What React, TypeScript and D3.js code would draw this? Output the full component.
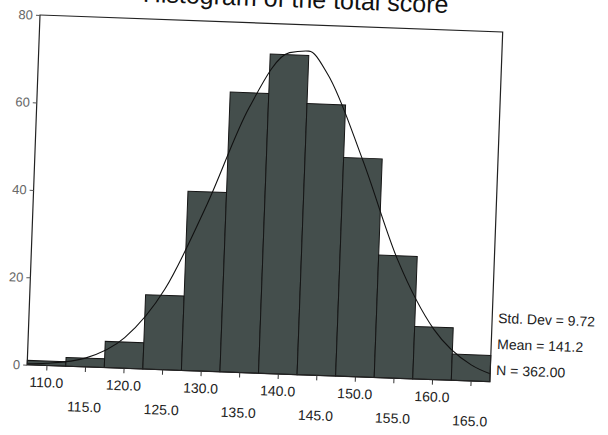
import React, { useEffect, useRef } from "react";
import * as d3 from "d3";

// histogram of the total score (scanned SPSS output, page slightly tilted)
const chartTitle = "Histogram of the total score";
const binCenters = [110, 115, 120, 125, 130, 135, 140, 145, 150, 155, 160, 165];
const binCounts = [1, 2, 6, 17, 41, 64, 73, 62, 50, 28, 12, 6];
const yTicks = [0, 20, 40, 60, 80];
// normal curve
const curveX = [107.5, 110, 115, 120, 125, 130, 135, 140, 142.5, 145, 150, 155, 160, 165, 167.5];
const curveY = [0.2, 0.5, 2, 7, 18.5, 38, 60.5, 73.5, 74, 69, 49.5, 27, 11.5, 3.7, 1.8];
const statLines = ["Std. Dev = 9.72", "Mean = 141.2", "N = 362.00"];

const FONT = "'Liberation Sans', Arial, sans-serif";

export default function App() {
  const ref = useRef<SVGSVGElement>(null);

  useEffect(() => {
    const width = 463,
      height = 350,
      binWidth = 5;
    const svg = d3.select(ref.current);
    svg.selectAll("*").remove();

    const x = d3
      .scaleLinear()
      .domain([binCenters[0] - binWidth / 2, binCenters[binCenters.length - 1] + binWidth / 2])
      .range([0, width]);
    const y = d3.scaleLinear().domain([0, 80]).range([height, 0]);

    const g = svg.append("g").attr("transform", "translate(40,15) rotate(2.1)");

    // title runs off the top of the scan
    g.append("text")
      .attr("x", 255)
      .attr("y", -17)
      .attr("text-anchor", "middle")
      .style("font-family", FONT)
      .style("font-size", "25px")
      .attr("fill", "#111")
      .text(chartTitle);

    // bars
    g.selectAll("rect.bar")
      .data(binCenters)
      .join("rect")
      .attr("class", "bar")
      .attr("x", d => x(d - binWidth / 2))
      .attr("width", x(binCenters[0] + binWidth / 2) - x(binCenters[0] - binWidth / 2))
      .attr("y", (d, i) => y(binCounts[i]))
      .attr("height", (d, i) => height - y(binCounts[i]))
      .attr("fill", "#444e4c")
      .attr("stroke", "#151515")
      .attr("stroke-width", 1);

    // fitted curve
    const line = d3
      .line<number>()
      .x(d => x(d))
      .y((d, i) => y(curveY[i]))
      .curve(d3.curveMonotoneX);
    g.append("path")
      .attr("d", line(curveX))
      .attr("fill", "none")
      .attr("stroke", "#111")
      .attr("stroke-width", 1.1);

    // frame
    g.append("rect")
      .attr("x", 0)
      .attr("y", 0)
      .attr("width", width)
      .attr("height", height)
      .attr("fill", "none")
      .attr("stroke", "#222")
      .attr("stroke-width", 1.2);

    const xAxis = d3
      .axisBottom(x)
      .tickValues(binCenters)
      .tickSize(5)
      .tickFormat(d3.format(".1f"));
    const xg = g
      .append("g")
      .attr("transform", `translate(0,${height})`)
      .call(xAxis);
    xg.select(".domain").remove();
    xg.selectAll("line").attr("stroke", "#333");
    xg.selectAll("text")
      .attr("y", (d, i) => (i % 2 ? 35 : 12))
      .attr("fill", "#222")
      .style("font-family", FONT)
      .style("font-size", "14px");

    const yAxis = d3.axisLeft(y).tickValues(yTicks).tickSize(4);
    const yg = g.append("g").call(yAxis);
    yg.select(".domain").remove();
    yg.selectAll("line").attr("stroke", "#555");
    yg.selectAll("text")
      .attr("fill", "#666")
      .style("font-family", FONT)
      .style("font-size", "13px");

    // summary stats
    g.selectAll("text.stat")
      .data(statLines)
      .join("text")
      .attr("class", "stat")
      .attr("x", width + 6)
      .attr("y", (d, i) => 291 + i * 26)
      .attr("fill", "#222")
      .style("font-family", FONT)
      .style("font-size", "14px")
      .text(d => d);
  }, []);

  return (
    <svg
      ref={ref}
      width={608}
      height={435}
      style={{ position: "absolute", left: 0, top: 0, background: "#fff" }}
    />
  );
}
